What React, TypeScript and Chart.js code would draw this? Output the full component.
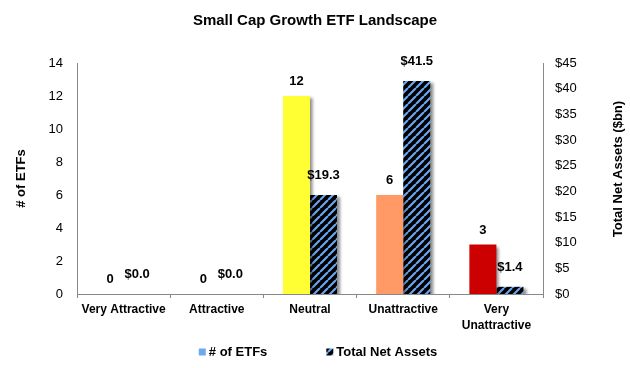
import React, { useEffect, useRef } from 'react';
import { Chart, registerables } from 'chart.js';

Chart.register(...registerables);

const categories: (string | string[])[] = ['Very Attractive', 'Attractive', 'Neutral', 'Unattractive', ['Very', 'Unattractive']];
const etfCounts = [0, 0, 12, 6, 3];
const netAssets = [0.0, 0.0, 19.3, 41.5, 1.4];
const etfColors = ['#00A650', '#92D050', '#FFFF33', '#FF9966', '#CC0000'];
const seriesNames = ['# of ETFs', 'Total Net Assets'];
const titleText = 'Small Cap Growth ETF Landscape';
const leftAxisTitle = '# of ETFs';
const rightAxisTitle = 'Total Net Assets ($bn)';

const FONT = '"Liberation Sans", Arial, Helvetica, sans-serif';
const HATCH_BLUE = '#6AA6F0';
const LEGEND_BLUE = '#6FA8F0';

function makeHatch(ctx: CanvasRenderingContext2D): CanvasPattern | string {
  const c = document.createElement('canvas');
  c.width = 8;
  c.height = 8;
  const g = c.getContext('2d');
  if (!g) return '#000';
  g.fillStyle = '#000';
  g.fillRect(0, 0, 8, 8);
  g.strokeStyle = HATCH_BLUE;
  g.lineWidth = 2.2;
  g.beginPath();
  for (const k of [-8, 0, 8]) {
    g.moveTo(k, 8);
    g.lineTo(k + 8, 0);
  }
  g.stroke();
  return ctx.createPattern(c, 'repeat') || '#000';
}

export default function App() {
  const ref = useRef<HTMLCanvasElement | null>(null);

  useEffect(() => {
    document.body.style.margin = '0';
    const canvas = ref.current;
    if (!canvas) return;
    const ctx = canvas.getContext('2d');
    if (!ctx) return;
    const hatch = makeHatch(ctx);

    const barPlugin = {
      id: 'barDecor',
      beforeDatasetsDraw(chart: any) {
        const c = chart.ctx;
        c.save();
        c.shadowColor = 'rgba(0,0,0,0.45)';
        c.shadowOffsetX = 3;
        c.shadowOffsetY = 2;
        c.shadowBlur = 3;
      },
      afterDatasetsDraw(chart: any) {
        const c = chart.ctx;
        c.restore();
        c.save();
        c.fillStyle = '#000';
        c.font = `bold 13px ${FONT}`;
        c.textAlign = 'center';
        c.textBaseline = 'alphabetic';
        chart.data.datasets.forEach((ds: any, i: number) => {
          const meta = chart.getDatasetMeta(i);
          meta.data.forEach((bar: any, j: number) => {
            const v = ds.data[j] as number;
            const txt = i === 0 ? String(v) : '$' + v.toFixed(1);
            const gap = i === 0 ? 11 : 16;
            c.fillText(txt, bar.x, bar.y - gap);
          });
        });
        c.restore();
      },
      afterDraw(chart: any) {
        const c = chart.ctx;
        c.save();
        c.fillStyle = '#000';
        c.font = `bold 13px ${FONT}`;
        c.textAlign = 'center';
        c.textBaseline = 'middle';
        c.translate(618, 169);
        c.rotate(-Math.PI / 2);
        c.fillText(rightAxisTitle, 0, 0);
        c.restore();

        c.save();
        c.font = `bold 13px ${FONT}`;
        c.textBaseline = 'middle';
        c.textAlign = 'left';
        const box = 7;
        const boxGap = 3;
        const itemGap = 59;
        const widths = seriesNames.map((n) => c.measureText(n).width);
        const total = widths.reduce((a, w) => a + box + boxGap + w, 0) + itemGap * (seriesNames.length - 1);
        let x = 318 - total / 2;
        const y = 352;
        seriesNames.forEach((n, i) => {
          c.fillStyle = i === 0 ? LEGEND_BLUE : (hatch as any);
          c.fillRect(x, y - box / 2, box, box);
          c.fillStyle = '#000';
          c.fillText(n, x + box + boxGap, y + 0.5);
          x += box + boxGap + widths[i] + itemGap;
        });
        c.restore();
      },
    };

    const chart = new Chart(ctx, {
      type: 'bar',
      data: {
        labels: categories as any,
        datasets: [
          {
            label: seriesNames[0],
            data: etfCounts,
            backgroundColor: etfColors,
            yAxisID: 'y',
            barPercentage: 1,
            categoryPercentage: 0.58,
          },
          {
            label: seriesNames[1],
            data: netAssets,
            backgroundColor: hatch as any,
            yAxisID: 'y1',
            barPercentage: 1,
            categoryPercentage: 0.58,
          },
        ],
      },
      options: {
        animation: false,
        responsive: false,
        maintainAspectRatio: false,
        layout: { padding: { top: 0, left: 0, right: 0, bottom: 34 } },
        plugins: {
          legend: { display: false },
          tooltip: { enabled: false },
          title: {
            display: true,
            text: titleText,
            color: '#000',
            font: { family: FONT, size: 15, weight: 'bold' },
            padding: { top: 12, bottom: 33 },
          },
        },
        scales: {
          x: {
            offset: true,
            grid: {
              display: true,
              drawOnChartArea: false,
              drawTicks: true,
              tickLength: 4,
              offset: true,
              color: '#888',
            },
            border: { display: true, color: '#888' },
            ticks: {
              color: '#000',
              font: { family: FONT, size: 12, weight: 'bold', lineHeight: 1.3 },
              autoSkip: false,
              maxRotation: 0,
              padding: 4,
            },
            afterFit(scale: any) {
              scale.height = 40;
            },
          },
          y: {
            position: 'left',
            min: 0,
            max: 14,
            grid: { display: false, drawTicks: false },
            border: { display: true, color: '#888' },
            ticks: {
              stepSize: 2,
              color: '#000',
              font: { family: FONT, size: 13 },
              padding: 14,
            },
            title: {
              display: true,
              text: leftAxisTitle,
              color: '#000',
              font: { family: FONT, size: 13, weight: 'bold' },
              padding: { top: 14, bottom: 0 },
            },
            afterFit(scale: any) {
              scale.width = 77;
            },
          },
          y1: {
            position: 'right',
            min: 0,
            max: 45,
            grid: { display: false, drawTicks: false },
            border: { display: true, color: '#888' },
            ticks: {
              stepSize: 5,
              color: '#000',
              font: { family: FONT, size: 13 },
              padding: 12,
              callback: (v: any) => '$' + v,
            },
            afterFit(scale: any) {
              scale.width = 87;
            },
          },
        },
      },
      plugins: [barPlugin],
    });

    return () => chart.destroy();
  }, []);

  return (
    <div style={{ width: 630, height: 368, position: 'relative' }}>
      <canvas ref={ref} width={630} height={368} style={{ display: 'block' }} />
    </div>
  );
}
